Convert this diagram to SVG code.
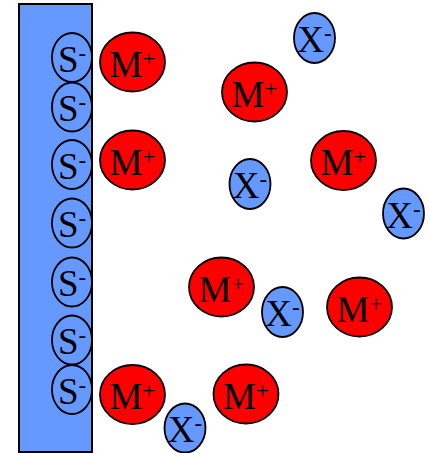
<svg xmlns="http://www.w3.org/2000/svg" width="429" height="453" viewBox="0 0 429 453">
<style>
.surf{fill:#6699FF;stroke:#000;stroke-width:2}
.s{fill:#6699FF;stroke:#000;stroke-width:1.8}
.m{fill:#FF0000;stroke:#000;stroke-width:1.8}
.x{fill:#6699FF;stroke:#000;stroke-width:1.8}
text{font-family:"Liberation Serif","Times New Roman",serif;font-size:37px;fill:#000;text-anchor:middle}
.sup{font-size:23px}
</style>
<g id="surface"><rect class="surf" x="19" y="4" width="73" height="448"/></g>
<g id="s1"><ellipse class="s" cx="72" cy="57.5" rx="20" ry="24.5"/><text x="72" y="72">S<tspan class="sup" dy="-11">-</tspan></text></g>
<g id="s2"><ellipse class="s" cx="72" cy="107" rx="20" ry="24.5"/><text x="72" y="121">S<tspan class="sup" dy="-11">-</tspan></text></g>
<g id="s3"><ellipse class="s" cx="72" cy="164.5" rx="20" ry="24.5"/><text x="72" y="178.5">S<tspan class="sup" dy="-11">-</tspan></text></g>
<g id="s4"><ellipse class="s" cx="72" cy="223" rx="20" ry="24.5"/><text x="72" y="237">S<tspan class="sup" dy="-11">-</tspan></text></g>
<g id="s5"><ellipse class="s" cx="72" cy="282" rx="20" ry="24.5"/><text x="72" y="296">S<tspan class="sup" dy="-11">-</tspan></text></g>
<g id="s6"><ellipse class="s" cx="72" cy="340" rx="20" ry="24.5"/><text x="72" y="354">S<tspan class="sup" dy="-11">-</tspan></text></g>
<g id="s7"><ellipse class="s" cx="72" cy="389.5" rx="20" ry="24.5"/><text x="72" y="403.5">S<tspan class="sup" dy="-11">-</tspan></text></g>
<g id="m1"><ellipse class="m" cx="132.5" cy="62" rx="32.5" ry="29.5"/><text x="132.5" y="76.5">M<tspan class="sup" dy="-11">+</tspan></text></g>
<g id="m2"><ellipse class="m" cx="132.5" cy="160" rx="32.5" ry="29.5"/><text x="132.5" y="174.5">M<tspan class="sup" dy="-11">+</tspan></text></g>
<g id="m3"><ellipse class="m" cx="132.5" cy="394.5" rx="32.5" ry="29.5"/><text x="132.5" y="409">M<tspan class="sup" dy="-11">+</tspan></text></g>
<g id="m4"><ellipse class="m" cx="254.5" cy="92" rx="32.5" ry="29.5"/><text x="254.5" y="106.5">M<tspan class="sup" dy="-11">+</tspan></text></g>
<g id="m5"><ellipse class="m" cx="343.5" cy="160.5" rx="32.5" ry="29.5"/><text x="343.5" y="175">M<tspan class="sup" dy="-11">+</tspan></text></g>
<g id="m6"><ellipse class="m" cx="221.5" cy="287" rx="32.5" ry="29.5"/><text x="221.5" y="301.5">M<tspan class="sup" dy="-11">+</tspan></text></g>
<g id="m7"><ellipse class="m" cx="359.5" cy="307" rx="32.5" ry="29.5"/><text x="359.5" y="321.5">M<tspan class="sup" dy="-11">+</tspan></text></g>
<g id="m8"><ellipse class="m" cx="246" cy="394" rx="32.5" ry="29.5"/><text x="246" y="408.5">M<tspan class="sup" dy="-11">+</tspan></text></g>
<g id="x1"><ellipse class="x" cx="314.5" cy="38" rx="20.5" ry="25"/><text x="314.5" y="52">X<tspan class="sup" dy="-11">-</tspan></text></g>
<g id="x2"><ellipse class="x" cx="250" cy="184" rx="20.5" ry="25"/><text x="250" y="198">X<tspan class="sup" dy="-11">-</tspan></text></g>
<g id="x3"><ellipse class="x" cx="403.5" cy="213.5" rx="20.5" ry="25"/><text x="403.5" y="227.5">X<tspan class="sup" dy="-11">-</tspan></text></g>
<g id="x4"><ellipse class="x" cx="282.5" cy="312" rx="20.5" ry="25"/><text x="282.5" y="326">X<tspan class="sup" dy="-11">-</tspan></text></g>
<g id="x5"><ellipse class="x" cx="185" cy="428" rx="20.5" ry="24.5"/><text x="185" y="442">X<tspan class="sup" dy="-11">-</tspan></text></g>
</svg>
